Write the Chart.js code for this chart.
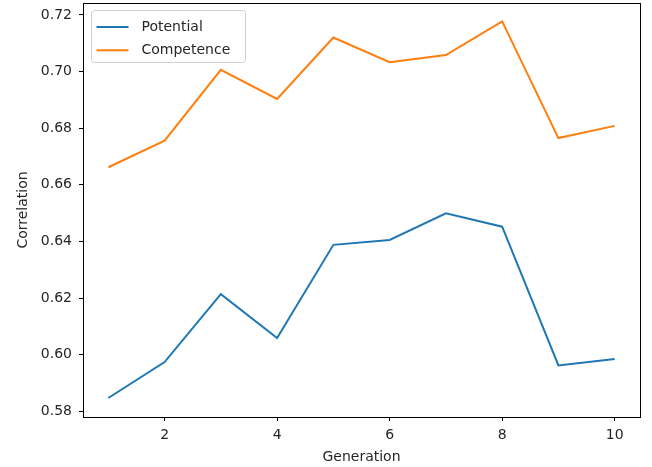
<!DOCTYPE html>
<html>
<head>
<meta charset="utf-8">
<script src="https://cdn.jsdelivr.net/npm/chart.js@4/dist/chart.umd.min.js"></script>
<style>
  html, body { margin: 0; padding: 0; background: #fff; }
  #wrap { width: 652px; height: 467px; }
</style>
</head>
<body>
<div id="wrap"><canvas id="c" width="652" height="467"></canvas></div>
<script>
// Correlation per generation for the two measures
const generations = [1, 2, 3, 4, 5, 6, 7, 8, 9, 10];
const potential = [0.5847, 0.5974, 0.6214, 0.6059, 0.6388, 0.6405, 0.6499, 0.6452, 0.5962, 0.5985];
const competence = [0.6662, 0.6756, 0.7006, 0.6903, 0.7120, 0.7033, 0.7058, 0.7177, 0.6765, 0.6808];
const xTicks = [2, 4, 6, 8, 10];
const yTicks = [0.58, 0.60, 0.62, 0.64, 0.66, 0.68, 0.70, 0.72];

const FONT = 'DejaVu Sans';
const SIZE = 14;
const TEXT = '#262626';

const toPoints = vals => generations.map((g, i) => ({ x: g, y: vals[i] }));

// Full box around the plotting area
const frame = {
  id: 'frame',
  afterDatasetsDraw(chart) {
    const { ctx, chartArea: a } = chart;
    ctx.save();
    ctx.strokeStyle = '#000';
    ctx.lineWidth = 1;
    ctx.strokeRect(Math.round(a.left) + 0.5, Math.round(a.top) + 0.5,
      Math.round(a.right - a.left), Math.round(a.bottom - a.top));
    ctx.restore();
  }
};

// Legend box in the upper-left corner of the plot
const innerLegend = {
  id: 'innerLegend',
  afterDraw(chart) {
    const { ctx, chartArea: a } = chart;
    const x = a.left + 8.5, y = a.top + 7.5, w = 154, h = 52, r = 3;
    ctx.save();
    ctx.beginPath();
    ctx.roundRect(x, y, w, h, r);
    ctx.fillStyle = 'rgba(255,255,255,0.8)';
    ctx.fill();
    ctx.strokeStyle = '#d0d0d0';
    ctx.lineWidth = 1;
    ctx.stroke();
    ctx.font = SIZE + 'px "' + FONT + '"';
    ctx.textBaseline = 'middle';
    chart.data.datasets.forEach((ds, i) => {
      const cy = y + 16.5 + i * 23.3;
      ctx.beginPath();
      ctx.moveTo(x + 5, cy);
      ctx.lineTo(x + 37, cy);
      ctx.strokeStyle = ds.borderColor;
      ctx.lineWidth = 2;
      ctx.stroke();
      ctx.fillStyle = TEXT;
      ctx.fillText(ds.label, x + 50, cy);
    });
    ctx.restore();
  }
};

new Chart(document.getElementById('c'), {
  type: 'line',
  data: {
    datasets: [
      { label: 'Potential', data: toPoints(potential), borderColor: '#1f77b4', borderWidth: 2, pointRadius: 0, tension: 0, fill: false },
      { label: 'Competence', data: toPoints(competence), borderColor: '#ff7f0e', borderWidth: 2, pointRadius: 0, tension: 0, fill: false }
    ]
  },
  options: {
    responsive: false,
    animation: false,
    devicePixelRatio: 1,
    layout: { padding: { top: 3, right: 12, left: 0, bottom: 0 } },
    plugins: { legend: { display: false }, tooltip: { enabled: false } },
    scales: {
      x: {
        type: 'linear',
        min: 0.55,
        max: 10.45,
        afterBuildTicks: s => { s.ticks = xTicks.map(v => ({ value: v })); },
        afterFit: s => { s.height = 50; s.paddingLeft = 0; s.paddingRight = 0; },
        grid: { drawOnChartArea: false, drawTicks: true, tickLength: 4, color: '#000' },
        border: { display: true, color: '#000', width: 1 },
        ticks: { padding: 6, color: TEXT, font: { family: FONT, size: SIZE }, maxRotation: 0 },
        title: { display: true, text: 'Generation', color: TEXT, font: { family: FONT, size: SIZE }, padding: { top: 0, bottom: 1 } }
      },
      y: {
        type: 'linear',
        min: 0.578,
        max: 0.7242,
        afterBuildTicks: s => { s.ticks = yTicks.map(v => ({ value: v })); },
        afterFit: s => { s.width = 83; s.paddingTop = 0; s.paddingBottom = 0; },
        grid: { drawOnChartArea: false, drawTicks: true, tickLength: 4, color: '#000' },
        border: { display: true, color: '#000', width: 1 },
        ticks: { padding: 7, color: TEXT, font: { family: FONT, size: SIZE }, callback: v => v.toFixed(2) },
        title: { display: true, text: 'Correlation', color: TEXT, font: { family: FONT, size: SIZE }, padding: { top: 15, bottom: 0 } }
      }
    }
  },
  plugins: [frame, innerLegend]
});
</script>
</body>
</html>
